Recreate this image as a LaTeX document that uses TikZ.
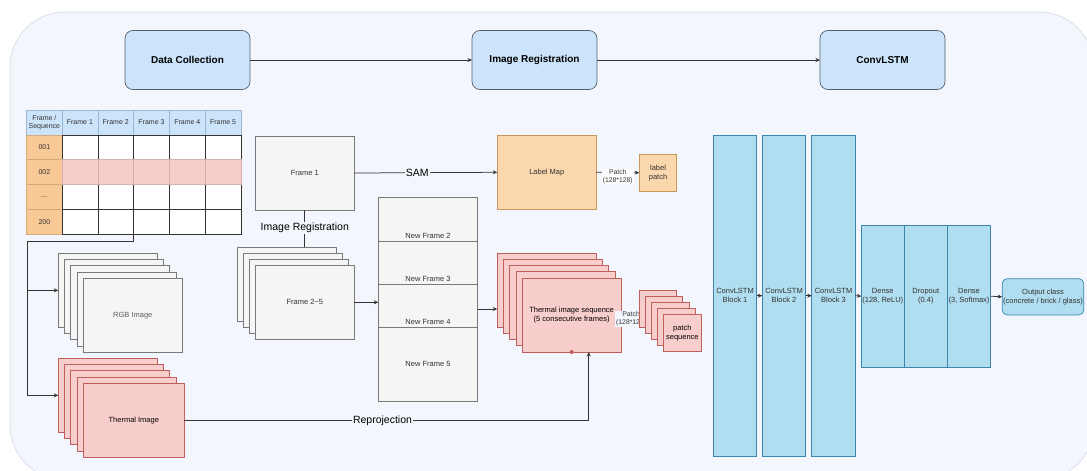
\documentclass[tikz,border=0pt]{standalone}
\usepackage{fontspec}
\setmainfont{Liberation Sans}
\usetikzlibrary{arrows.meta,fit}
\definecolor{bgc}{HTML}{F3F6FC}
\definecolor{bgl}{HTML}{D9E0EA}
\definecolor{gfill}{HTML}{F5F5F5}
\definecolor{gdraw}{HTML}{7A7A7A}
\definecolor{pfill}{HTML}{F8CECC}
\definecolor{pdraw}{HTML}{C0605C}
\definecolor{ofill}{HTML}{FAD7AC}
\definecolor{odraw}{HTML}{C8975A}
\definecolor{ocell}{HTML}{F9C995}
\definecolor{hfill}{HTML}{CCE4FA}
\definecolor{hdraw}{HTML}{9DB6D3}
\definecolor{bfill}{HTML}{B1DDF0}
\definecolor{bdraw}{HTML}{3A86AE}
\definecolor{tfill}{HTML}{CCE4FB}
\definecolor{tdraw}{HTML}{56606C}
\definecolor{lc}{HTML}{333333}
\definecolor{txt}{HTML}{333333}
\begin{document}
\begin{tikzpicture}[x=1pt,y=-1pt,
  box/.style={draw, inner sep=1pt, outer sep=0pt, align=center, text=txt,
    font=\fontsize{7.5}{9}\selectfont, line width=0.7pt},
  gbox/.style={box, fill=gfill, draw=gdraw},
  pbox/.style={box, fill=pfill, draw=pdraw, text=black},
  obox/.style={box, fill=ofill, draw=odraw},
  bbox/.style={box, fill=bfill, draw=bdraw},
  topbox/.style={box, fill=tfill, draw=tdraw, rounded corners=8pt, text=black,
    font=\fontsize{10}{12}\selectfont\bfseries, minimum width=125pt, minimum height=59pt},
  img/.style={minimum width=99pt, minimum height=74pt},
  cell/.style={draw, inner sep=0pt, outer sep=0pt, align=center, text=txt,
    font=\fontsize{7}{7.6}\selectfont, minimum width=35.8pt, minimum height=24.8pt, line width=0.6pt},
  hcell/.style={cell, fill=hfill, draw=hdraw},
  rcell/.style={cell, fill=ocell, draw=ocell!85!black, minimum width=35.3pt},
  wcell/.style={cell, fill=white, draw=lc},
  pcell/.style={cell, fill=pfill, draw=pfill!85!black},
  ln/.style={draw=lc, line width=0.75pt},
  arr/.style={ln, -{Stealth[length=4.5pt,width=4pt]}},
  lbl/.style={fill=bgc, inner sep=1pt, text=black, font=\fontsize{10.5}{12}\selectfont},
  plbl/.style={fill=white, inner sep=1pt, text=txt, align=center, font=\fontsize{6.8}{7.6}\selectfont}
]
\clip (0,0) rectangle (1087,471);
\fill[white] (0,0) rectangle (1087,471);
\draw[fill=bgc, draw=bgl, line width=0.8pt, rounded corners=55pt] (10,12) rectangle (1094,480);

% top row
\node[topbox] (dc) at (187.5,60) {Data Collection};
\node[topbox] (ir) at (534.5,60) {Image Registration};
\node[topbox] (cl) at (882.5,60) {ConvLSTM};
\draw[arr] (dc.east) -- (ir.west);
\draw[arr] (ir.east) -- (cl.west);

% table
\node[hcell, minimum width=35.3pt] (h0) at (44.35,122.4) {Frame /\\Sequence};
\foreach \j in {1,...,5} \node[hcell] (h\j) at ({62+35.8*(\j-0.5)},122.4) {Frame \j};
\node[rcell] (r1c0) at (44.35,147.2) {001};
\node[rcell] (r2c0) at (44.35,172.0) {002};
\node[rcell] (r3c0) at (44.35,196.8) {\ldots};
\node[rcell] (r4c0) at (44.35,221.6) {200};
\foreach \r in {1,3,4} \foreach \j in {1,...,5}
  \node[wcell] (r\r c\j) at ({62+35.8*(\j-0.5)},{134.8+24.8*(\r-0.5)}) {};
\foreach \j in {1,...,5}
  \node[pcell] (r2c\j) at ({62+35.8*(\j-0.5)},172.0) {};
\node[fit=(h0)(r4c5), inner sep=0pt, outer sep=0pt] (tab) {};

% RGB stack
\foreach \i in {0,...,3}
  \node[gbox, img] (rgb\i) at ({107.8+6.25*\i},{290.3+6.25*\i}) {};
\node[gbox, img, text=txt!80] (rgb4) at (132.8,315.3) {RGB Image};
% thermal stack
\foreach \i in {0,...,3}
  \node[pbox, img] (th\i) at ({107.8+6.25*\i},{395.3+6.25*\i}) {};
\node[pbox, img, minimum width=101pt] (th4) at (133.8,420.3) {Thermal Image};

\coordinate (jn) at (27,241);
\draw[ln] (tab.south) -- (tab.south |- jn) -- (jn) -- (jn |- th0.west);
\draw[arr] (jn |- rgb0.west) -- (rgb0.west);
\draw[arr] (jn |- th0.west) -- (th0.west);

% Frame 1 and frames 2~5
\node[gbox, img] (f1) at (304.8,173) {Frame 1};
\foreach \i in {0,...,2}
  \node[gbox, img] (fs\i) at ({286.8+6*\i},{284.3+6*\i}) {};
\node[gbox, img] (f25) at (304.8,302.3) {Frame 2\textasciitilde5};
\draw[ln] (f1.south) -- (f1.south |- fs0.north) node[lbl, midway, yshift=1pt] {Image Registration};

% new frames column
\node[gbox, minimum width=99.4pt, minimum height=43.6pt,
  label={[anchor=south, inner sep=2.5pt, text=txt, font=\fontsize{7.5}{9}\selectfont]south:New Frame 2}] (nf2) at (428,219.5) {};
\node[gbox, minimum width=99.4pt, minimum height=43pt,
  label={[anchor=south, inner sep=2.5pt, text=txt, font=\fontsize{7.5}{9}\selectfont]south:New Frame 3}] (nf3) at (428,262.8) {};
\node[gbox, minimum width=99.4pt, minimum height=43pt,
  label={[anchor=south, inner sep=2.5pt, text=txt, font=\fontsize{7.5}{9}\selectfont]south:New Frame 4}] (nf4) at (428,305.8) {};
\node[gbox, minimum width=99.4pt, minimum height=74pt] (nf5) at (428,364.3) {New Frame 5};
\draw[arr] (f25.east) -- (f25.east -| nf4.west);

% label map
\node[obox, img] (lm) at (546.8,172.3) {Label Map};
\node[obox, minimum width=37.4pt, minimum height=37.3pt] (lp) at (658,172.7) {label\\patch};
\draw[arr] (f1.east) -- (lm.west) node[lbl, pos=0.44] {SAM};
\draw[arr] (lm.east) -- (lp.west) node[plbl, midway, yshift=-4pt] {Patch\\(128*128)};

% thermal sequence stack
\foreach \i in {0,...,3}
  \node[pbox, img] (ts\i) at ({546.8+6.2*\i},{290.2+6.2*\i}) {};
\node[pbox, img] (ts4) at (571.6,315.0) {Thermal image sequence\\(5 consecutive frames)};
\fill[pdraw] (ts4.south) circle (2pt);
\draw[arr] ([yshift=-3.2pt]nf4.east) coordinate (q) -- (q -| ts0.west);
\draw[arr] (th4.east) -| ([xshift=17.2pt]ts4.south) node[lbl, pos=0.245] {Reprojection};

% patch stack
\coordinate (pq) at (639.3,315);
\draw[arr] (ts4.east) -- (ts4.east -| pq) node[plbl, fill=bgc, pos=0.55, yshift=-4pt] {Patch\\(128*128)};
\foreach \i in {0,...,3}
  \node[pbox, minimum width=37.4pt, minimum height=37pt] (pt\i) at ({658+6.1*\i},{308.8+6.1*\i}) {};
\node[pbox, minimum width=37.4pt, minimum height=37pt] (pt4) at (682.4,333.2) {patch\\sequence};

% ConvLSTM blocks
\node[bbox, minimum width=43.4pt, minimum height=320.7pt] (b1) at (735,295.7) {ConvLSTM\\Block 1};
\node[bbox, minimum width=43.4pt, minimum height=320.7pt] (b2) at (784,295.7) {ConvLSTM\\Block 2};
\node[bbox, minimum width=43.4pt, minimum height=320.7pt] (b3) at (833.5,295.7) {ConvLSTM\\Block 3};
\node[bbox, minimum width=43pt, minimum height=141.7pt] (d1) at (882.8,296.2) {Dense\\(128, ReLU)};
\node[bbox, minimum width=43pt, minimum height=141.7pt] (d2) at (925.8,296.2) {Dropout\\(0.4)};
\node[bbox, minimum width=43.4pt, minimum height=141.7pt] (d3) at (969,296.2) {Dense\\(3, Softmax)};
\node[bbox, rounded corners=5pt, minimum width=80.6pt, minimum height=36.3pt] (out) at (1043,296.8) {Output class\\(concrete / brick / glass)};
\draw[arr] (b1.east) -- (b2.west);
\draw[arr] (b2.east) -- (b3.west);
\draw[arr] (b3.east) -- (d1.west);
\draw[arr] (d3.east) -- (out.west);
\end{tikzpicture}
\end{document}
